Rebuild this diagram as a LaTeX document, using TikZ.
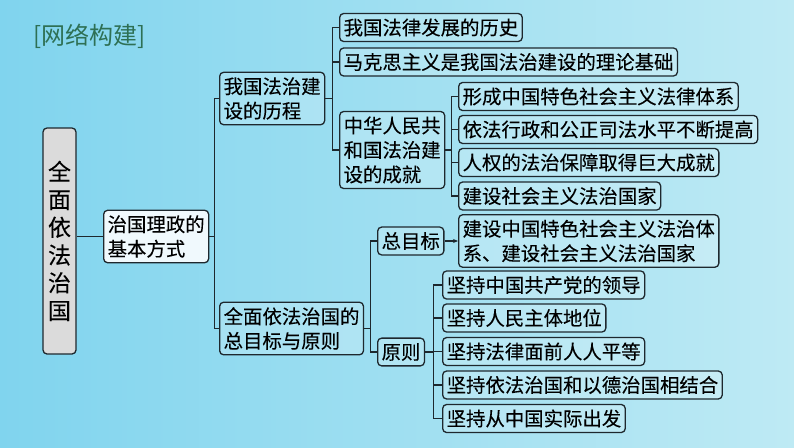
\documentclass[tikz,border=0pt]{standalone}
\usepackage{fontspec}
\setmainfont[BoldFont={Noto Sans CJK SC},BoldFeatures={FakeBold=0.12}]{Noto Sans CJK SC}
\usetikzlibrary{calc,arrows.meta}

\definecolor{bgleft}{RGB}{128,212,238}
\definecolor{bgright}{RGB}{190,234,244}
\definecolor{titlegreen}{RGB}{46,112,84}
\definecolor{boxline}{RGB}{30,40,46}

% elbow connector: parent east -> halfway -> child west
\newcommand{\linkto}[2]{\draw[link] (#1.east) -- ($(#1.east)!.5!(#1.east -| #2.west)$) |- (#2.west);}

\begin{document}
\begin{tikzpicture}[x=1pt,y=-1pt]
\tikzset{box/.style={draw=boxline,line width=1.3pt,rounded corners=4pt,fill=white,fill opacity=.2,text opacity=1,
  inner xsep=4pt,inner ysep=5pt,anchor=west,align=left,font=\fontsize{19.4}{24.5}\selectfont\bfseries}}
\tikzset{graybox/.style={box,fill=black!14,fill opacity=1}}
\tikzset{link/.style={draw=boxline,line width=1.3pt}}

\useasboundingbox (0,0) rectangle (794,447);
\fill[left color=bgleft,right color=bgright] (0,0) rectangle (794,447);

\node[anchor=west,text=titlegreen,font=\fontsize{24}{24}\selectfont] (title) at (30,36) {[网络构建]};

\node[graybox,anchor=center,align=center,inner sep=0pt,minimum width=33pt,minimum height=226pt,
  font=\fontsize{23}{27.8}\selectfont\bfseries] (root) at (59.5,241) {全\\面\\依\\法\\治\\国};
\node[graybox,fill=black!8!cyan!6] (zhiguo) at (103,236.5) {治国理政的\\基本方式};

\node[box] (licheng) at (219,98.5) {我国法治建\\设的历程};
\node[box] (lishi) at (339,27.5) {我国法律发展的历史};
\node[box] (jichu) at (339,62) {马克思主义是我国法治建设的理论基础};
\node[box] (chengjiu) at (339,150) {中华人民共\\和国法治建\\设的成就};
\node[box] (tixi) at (458,96.5) {形成中国特色社会主义法律体系};
\node[box] (sifa) at (458,129.5) {依法行政和公正司法水平不断提高};
\node[box] (renquan) at (458,162.5) {人权的法治保障取得巨大成就};
\node[box] (guojia) at (458,196) {建设社会主义法治国家};

\node[box] (mubiao) at (219,328.5) {全面依法治国的\\总目标与原则};
\node[box] (zong) at (377,241) {总目标};
\node[box] (goal) at (458,241) {建设中国特色社会主义法治体\\系、建设社会主义法治国家};
\node[box] (yuanze) at (377,352) {原则};
\node[box] (p1) at (442,285) {坚持中国共产党的领导};
\node[box] (p2) at (442,318) {坚持人民主体地位};
\node[box] (p3) at (442,351.5) {坚持法律面前人人平等};
\node[box] (p4) at (442,385) {坚持依法治国和以德治国相结合};
\node[box] (p5) at (442,418.5) {坚持从中国实际出发};

\draw[link] (zhiguo.west) -- (zhiguo.west -| root.east);
\foreach \c in {licheng,mubiao} {\linkto{zhiguo}{\c}}
\foreach \c in {lishi,jichu,chengjiu} {\linkto{licheng}{\c}}
\foreach \c in {tixi,sifa,renquan,guojia} {\linkto{chengjiu}{\c}}
\foreach \c in {zong,yuanze} {\linkto{mubiao}{\c}}
\foreach \c in {p1,p2,p3,p4,p5} {\linkto{yuanze}{\c}}
\draw[link,-{Stealth[length=5pt,width=4pt]}] (zong) -- (goal);
\end{tikzpicture}
\end{document}
